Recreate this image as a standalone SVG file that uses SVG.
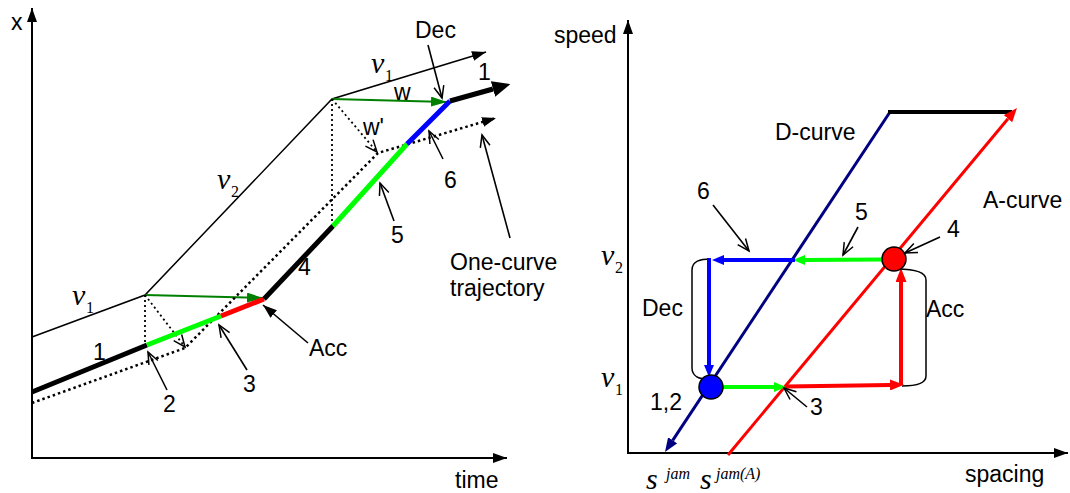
<svg xmlns="http://www.w3.org/2000/svg" width="1070" height="493" viewBox="0 0 1070 493">
<style>
.t{font-family:"Liberation Sans",Arial,sans-serif;font-size:23px;fill:#000}
.m{font-family:"Liberation Serif","Times New Roman",serif;font-style:italic;fill:#000}
.n{font-family:"Liberation Serif","Times New Roman",serif;font-style:normal;font-size:16px;fill:#000}
.ax{stroke:#000;stroke-width:2;fill:none}
.thin{stroke:#000;stroke-width:1.5;fill:none}
.dot{stroke:#000;stroke-width:2.5;fill:none;stroke-dasharray:2.5 3}
.dotv{stroke:#000;stroke-width:1.8;fill:none;stroke-dasharray:2 3}
.ptr{stroke:#000;stroke-width:1.6;fill:none}
.thick{stroke-width:5;fill:none;stroke-linecap:butt}
</style>
<defs>
<marker id="ah" viewBox="0 0 14 10" refX="14" refY="5" markerWidth="14" markerHeight="10" markerUnits="userSpaceOnUse" orient="auto"><path d="M0,0 L14,5 L0,10 z" fill="#000"/></marker>
<marker id="big" viewBox="0 0 18 16" refX="0" refY="8" markerWidth="18" markerHeight="16" markerUnits="userSpaceOnUse" orient="auto"><path d="M0,0 L18,8 L0,16 z" fill="#000"/></marker>
<marker id="dg" viewBox="0 0 16 10" refX="16" refY="5" markerWidth="16" markerHeight="10" markerUnits="userSpaceOnUse" orient="auto"><path d="M0,0 L16,5 L0,10 z" fill="#008000"/></marker>
<marker id="open" viewBox="0 0 12 10" refX="12" refY="5" markerWidth="12" markerHeight="10" markerUnits="userSpaceOnUse" orient="auto" overflow="visible"><path d="M0,0 L12,5 L0,10" fill="none" stroke="#000" stroke-width="1.5"/></marker>
<marker id="blk" viewBox="0 0 14 10" refX="14" refY="5" markerWidth="14" markerHeight="10" markerUnits="userSpaceOnUse" orient="auto"><path d="M0,0 L14,5 L0,10 z" fill="#000"/></marker>
<marker id="nv" viewBox="0 0 14 11" refX="0" refY="5.5" markerWidth="14" markerHeight="11" markerUnits="userSpaceOnUse" orient="auto"><path d="M0,0 L14,5.5 L0,11 z" fill="#000080"/></marker>
<marker id="rd" viewBox="0 0 14 11" refX="0" refY="5.5" markerWidth="14" markerHeight="11" markerUnits="userSpaceOnUse" orient="auto"><path d="M0,0 L14,5.5 L0,11 z" fill="#ff0000"/></marker>
<marker id="bl" viewBox="0 0 12 10" refX="0" refY="5" markerWidth="12" markerHeight="10" markerUnits="userSpaceOnUse" orient="auto"><path d="M0,0 L12,5 L0,10 z" fill="#0000ff"/></marker>
<marker id="lg" viewBox="0 0 12 10" refX="0" refY="5" markerWidth="12" markerHeight="10" markerUnits="userSpaceOnUse" orient="auto"><path d="M0,0 L12,5 L0,10 z" fill="#00ff00"/></marker>
</defs>

<!-- LEFT PLOT -->
<g id="left-axes">
<line class="ax" x1="32" y1="458" x2="32" y2="8" marker-end="url(#ah)"/>
<line class="ax" x1="31" y1="458" x2="507" y2="458" marker-end="url(#ah)"/>
<text class="t" x="11" y="30">x</text>
<text class="t" x="455" y="488">time</text>
</g>

<g id="leader-trajectory">
<polyline class="thin" points="32,337 145,295 332,99 486,52" marker-end="url(#ah)"/>
<line x1="145" y1="295" x2="263" y2="298" stroke="#008000" stroke-width="2" marker-end="url(#dg)"/>
<line x1="332" y1="99" x2="447" y2="102" stroke="#008000" stroke-width="2" marker-end="url(#dg)"/>
</g>

<g id="one-curve-trajectory">
<polyline class="dot" points="32,403 185,348 378,153 496,118" marker-end="url(#ah)"/>
<line class="dotv" x1="145" y1="295" x2="145" y2="345"/>
<line class="dotv" x1="332" y1="99" x2="332" y2="226"/>
<line class="dotv" x1="145" y1="295" x2="185" y2="347" marker-end="url(#open)"/>
<line class="dotv" x1="332" y1="99" x2="377" y2="152" marker-end="url(#open)"/>
</g>

<g id="follower-trajectory">
<line class="thick" stroke="#000" x1="32" y1="392" x2="147" y2="345"/>
<line class="thick" stroke="#00ff00" x1="147" y1="345" x2="221" y2="316"/>
<line class="thick" stroke="#ff0000" x1="221" y1="316" x2="264" y2="299"/>
<line class="thick" stroke="#000" x1="264" y1="299" x2="333" y2="226"/>
<line class="thick" stroke="#00ff00" x1="333" y1="226" x2="407" y2="144"/>
<line class="thick" stroke="#0000ff" x1="407" y1="144" x2="450" y2="101"/>
<line class="thick" stroke="#000" x1="450" y1="101" x2="493" y2="89" marker-end="url(#big)"/>
</g>

<g id="left-pointers">
<line class="ptr" x1="428" y1="45" x2="442" y2="98" marker-end="url(#open)"/>
<line class="ptr" x1="167" y1="390" x2="148" y2="352" marker-end="url(#open)"/>
<line class="ptr" x1="247" y1="370" x2="219" y2="325" marker-end="url(#open)"/>
<line class="ptr" x1="308" y1="343" x2="263" y2="305" marker-end="url(#blk)"/>
<line class="ptr" x1="394" y1="221" x2="380" y2="183" marker-end="url(#open)"/>
<line class="ptr" x1="443" y1="159" x2="429" y2="131" marker-end="url(#open)"/>
<line class="ptr" x1="510" y1="238" x2="482" y2="135" marker-end="url(#open)"/>
</g>

<g id="left-labels">
<text class="m" font-size="30" x="72" y="305">v</text><text class="n" x="86" y="313">1</text>
<text class="m" font-size="30" x="217" y="189">v</text><text class="n" x="231" y="197">2</text>
<text class="m" font-size="30" x="371" y="73">v</text><text class="n" x="385" y="81">1</text>
<text class="t" x="93" y="360">1</text>
<text class="t" x="478" y="80">1</text>
<text class="t" x="163" y="412">2</text>
<text class="t" x="243" y="392">3</text>
<text class="t" x="298" y="275">4</text>
<text class="t" x="391" y="243">5</text>
<text class="t" x="444" y="188">6</text>
<text class="t" x="309" y="356">Acc</text>
<text class="t" x="415" y="38">Dec</text>
<text class="t" x="394" y="100" font-size="21">w</text>
<text class="t" x="363" y="135" font-size="21">w'</text>
<text class="t" x="450" y="270">One-curve</text>
<text class="t" x="450" y="296">trajectory</text>
</g>

<!-- RIGHT PLOT -->
<g id="right-axes">
<line class="ax" x1="628" y1="454" x2="628" y2="20" marker-end="url(#ah)"/>
<line class="ax" x1="627" y1="453" x2="1068" y2="453" marker-end="url(#ah)"/>
<text class="t" x="554" y="43">speed</text>
<text class="t" x="965" y="482">spacing</text>
<text class="m" font-size="30" x="601" y="265">v</text><text class="n" x="615" y="273">2</text>
<text class="m" font-size="30" x="601" y="387">v</text><text class="n" x="615" y="395">1</text>
<text class="m" font-size="30" x="646" y="489">s</text><text class="m" font-size="16" x="666" y="479">jam</text>
<text class="m" font-size="30" x="700" y="489">s</text><text class="m" font-size="16" x="716" y="479">jam(A)</text>
</g>

<g id="d-curve">
<line x1="890" y1="112" x2="672.7" y2="440.3" stroke="#000080" stroke-width="3" marker-end="url(#nv)"/>
<line x1="888" y1="112" x2="1012" y2="112" stroke="#000" stroke-width="4"/>
<text class="t" x="775" y="140">D-curve</text>
</g>

<g id="a-curve">
<line x1="728" y1="455" x2="1008" y2="118.7" stroke="#ff0000" stroke-width="3" marker-end="url(#rd)"/>
<text class="t" x="983" y="208">A-curve</text>
</g>

<g id="cycle">
<path class="thin" d="M711,259 C700,259 692,261 692,270 L692,368 C692,376 699,379 707,379"/>
<path class="thin" d="M897,269 C912,269 926,271 926,280 L926,376 C926,384 915,386 902,386"/>
<line x1="723" y1="387" x2="774" y2="387" stroke="#00ff00" stroke-width="4" marker-end="url(#lg)"/>
<line x1="786" y1="386.5" x2="890" y2="385" stroke="#ff0000" stroke-width="4" marker-end="url(#rd)"/>
<line x1="901" y1="385" x2="901" y2="282" stroke="#ff0000" stroke-width="4" marker-end="url(#rd)"/>
<line x1="882" y1="259.5" x2="805" y2="260" stroke="#00ff00" stroke-width="4" marker-end="url(#lg)"/>
<line x1="795" y1="260" x2="724" y2="260" stroke="#0000ff" stroke-width="4" marker-end="url(#bl)"/>
<line x1="709" y1="258" x2="709" y2="365" stroke="#0000ff" stroke-width="4" marker-end="url(#bl)"/>
</g>

<g id="state-1-2">
<circle cx="711" cy="387" r="12" fill="#0000ff" stroke="#000" stroke-width="1.5"/>
<text class="t" x="650" y="410">1,2</text>
</g>
<g id="state-4">
<circle cx="894" cy="259" r="12" fill="#ff0000" stroke="#000" stroke-width="1.5"/>
</g>

<g id="right-pointers">
<line class="ptr" x1="713" y1="205" x2="749" y2="251" marker-end="url(#open)"/>
<line class="ptr" x1="858" y1="227" x2="843" y2="255" marker-end="url(#open)"/>
<line class="ptr" x1="940" y1="237" x2="905" y2="253" marker-end="url(#open)"/>
<line class="ptr" x1="807" y1="407" x2="784" y2="388" marker-end="url(#open)"/>
</g>

<g id="right-labels">
<text class="t" x="697" y="199">6</text>
<text class="t" x="855" y="220">5</text>
<text class="t" x="947" y="237">4</text>
<text class="t" x="810" y="415">3</text>
<text class="t" x="642" y="316">Dec</text>
<text class="t" x="926" y="317">Acc</text>
</g>
</svg>
